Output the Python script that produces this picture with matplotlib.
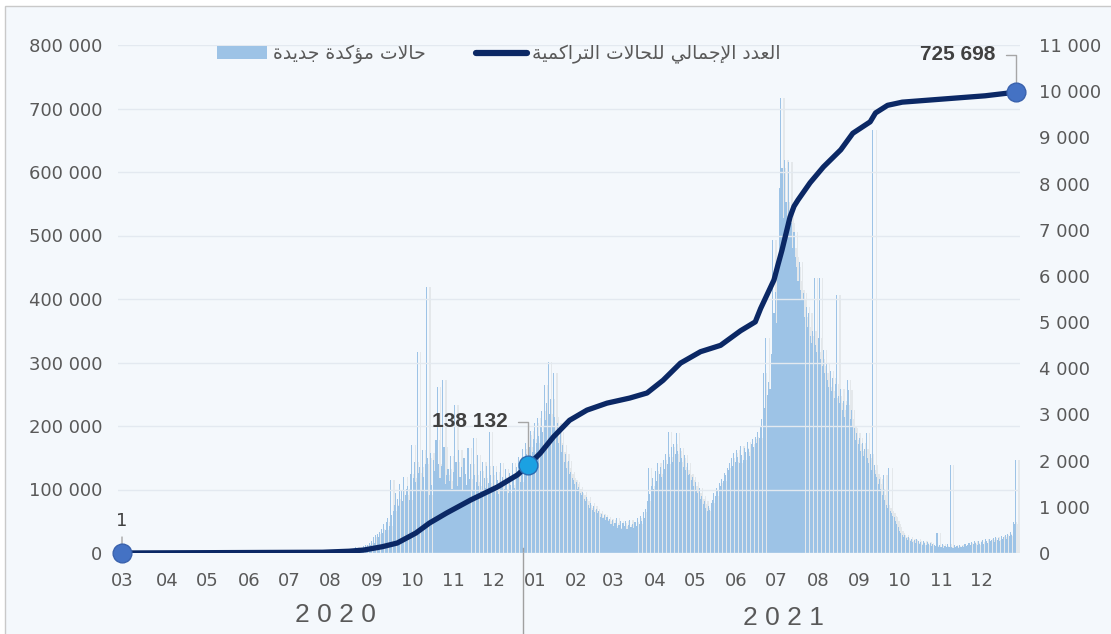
import matplotlib
matplotlib.use("Agg")
import matplotlib.pyplot as plt
import matplotlib.transforms as mtransforms
from matplotlib.lines import Line2D
from matplotlib.patches import Patch, Rectangle
from matplotlib.ticker import FuncFormatter, MultipleLocator
import numpy as np
import pandas as pd

# ---- data -------------------------------------------------------------
start_date = "2020-03-02"
end_date = "2021-12-31"

# daily new confirmed cases, one list per calendar month (right axis)
daily_2020 = [
    [1, 0, 0, 0, 0, 0, 0, 0, 0, 0, 0, 0, 0, 0, 0, 5, 4, 17, 10, 16,
     15, 15, 13, 14, 20, 40, 23, 26, 23, 19],                                  # 03 (from 2nd)
    [8, 8, 36, 11, 10, 13, 9, 10, 5, 15, 15, 0, 0, 10, 3, 3, 3, 8, 7, 2,
     1, 0, 4, 0, 1, 0, 0, 8, 4, 4],                                            # 04
    [2, 1, 6, 4, 3, 2, 6, 3, 1, 5, 4, 10, 13, 1, 12, 0, 2, 1, 6, 0,
     1, 3, 5, 2, 0, 2, 0, 3, 0, 24, 21],                                       # 05
    [9, 3, 5, 10, 5, 3, 2, 6, 3, 2, 7, 9, 2, 13, 5, 6, 2, 2, 4, 0,
     3, 8, 2, 3, 2, 5, 6, 11, 10, 2],                                          # 06
    [5, 4, 2, 6, 2, 3, 2, 4, 2, 9, 4, 8, 5, 2, 1, 2, 2, 3, 4, 1,
     3, 5, 3, 12, 2, 6, 3, 6, 4, 5, 9],                                        # 07
    [3, 10, 6, 3, 8, 18, 9, 12, 10, 6, 13, 30, 25, 38, 60, 52, 88, 55, 42, 70,
     85, 68, 64, 120, 45, 90, 116, 98, 112, 150, 172],                         # 08
    [125, 170, 215, 180, 260, 340, 225, 380, 420, 350, 460, 510, 430, 620, 490,
     680, 750, 590, 1580, 820, 920, 1050, 1290, 1160, 1020, 1500, 1340, 1120,
     1640, 1260],                                                              # 09
    [1380, 1450, 1150, 1720, 2340, 1620, 1980, 1540, 4350, 1740, 1870, 1360,
     2240, 1650, 1930, 5750, 2050, 1250, 2160, 1480, 2010, 1780, 2450, 3600,
     1930, 1620, 1890, 3740, 2300, 1500, 1680],                                # 10
    [1820, 1560, 2100, 1390, 1750, 3200, 1980, 1460, 2230, 1640, 1870, 1350,
     2050, 1720, 1480, 2280, 1610, 1930, 1370, 2490, 1690, 1540, 2120, 1460,
     1780, 1350, 1980, 1620, 1410, 1890],                                      # 11
    [1520, 2620, 1680, 1430, 1890, 1350, 1760, 1590, 1280, 1940, 1470, 1650,
     1380, 1820, 1560, 1290, 1730, 1480, 1950, 1620, 1400, 1860, 1710, 2080,
     1530, 1940, 2250, 1780, 2380, 2150, 2560],                                # 12
]
daily_2021 = [
    [2300, 2650, 2180, 2470, 2810, 2390, 2920, 2540, 2760, 3080, 2610, 3630,
     2880, 3250, 4130, 3010, 3340, 2720, 3900, 2950, 2530, 2810, 2390, 2620,
     2180, 2330, 1960, 2140, 1850, 1990, 1700],                                # 01
    [1750, 1620, 1580, 1490, 1530, 1380, 1420, 1300, 1250, 1330, 1180, 1120,
     1210, 1050, 980, 1090, 930, 1010, 880, 950, 860, 920, 790, 840, 760, 830,
     720, 780],                                                                # 02
    [690, 740, 620, 710, 580, 650, 760, 540, 610, 700, 520, 640, 580, 690, 510,
     600, 720, 560, 630, 540, 680, 590, 750, 620, 810, 700, 880, 760, 950,
     1120, 1840],                                                              # 03
    [1280, 1450, 1620, 1390, 1780, 1550, 1950, 1700, 1860, 1640, 2010, 1820,
     2150, 1930, 2620, 2080, 2290, 1980, 2360, 2140, 2600, 2210, 1960, 2280,
     2050, 1870, 2120, 1790, 1940, 1680],                                      # 04
    [1720, 1580, 1640, 1450, 1530, 1370, 1290, 1410, 1180, 1240, 1060, 1120,
     980, 900, 1010, 940, 1080, 1150, 1290, 1230, 1400, 1350, 1520, 1460, 1610,
     1550, 1730, 1680, 1840, 1790, 1950],                                      # 05
    [2050, 1880, 2170, 1960, 2240, 2080, 1950, 2310, 2130, 2020, 2280, 2190,
     2400, 2250, 2110, 2370, 2460, 2290, 2520, 2380, 2610, 2480, 2750, 2900,
     3900, 3150, 4650, 3420, 3700, 3550],                                      # 06
    [4300, 6770, 5200, 5650, 4980, 6100, 7900, 9850, 8330, 7250, 8500, 7600,
     6900, 8460, 7350, 7140, 6600, 6950, 6400, 6200, 5900, 6300, 5700, 5500,
     5630, 5100, 5320, 4900, 5200, 4700, 4550],                                # 07
    [4800, 5950, 4500, 4350, 4650, 5950, 4200, 4050, 4400, 3900, 4100, 3750,
     3600, 3950, 3500, 3800, 3350, 3650, 5580, 3400, 3250, 3550, 3100, 3300,
     2950, 3200, 3740, 3530, 2900, 3100, 2750],                                # 08
    [2700, 2450, 2600, 2350, 2500, 2200, 2380, 2100, 2250, 2600, 2050, 1950,
     2150, 1800, 9150, 1900, 1700, 1650, 1500, 1600, 1380, 1250, 1690, 1150,
     1050, 980, 1840, 920, 860, 800],                                          # 09
    [780, 700, 620, 560, 480, 430, 400, 350, 380, 320, 290, 340, 260, 300, 240,
     280, 220, 310, 250, 200, 230, 180, 260, 210, 170, 240, 190, 220, 160, 200,
     180],                                                                     # 10
    [150, 430, 120, 180, 140, 200, 110, 160, 130, 190, 120, 1900, 140, 100, 170,
     120, 150, 110, 180, 140, 160, 130, 190, 150, 170, 210, 180, 230, 200, 250],  # 11
    [220, 180, 260, 200, 240, 280, 190, 300, 250, 220, 310, 260, 280, 330, 240,
     350, 290, 320, 270, 360, 300, 340, 390, 310, 420, 370, 450, 400, 680, 620,
     2010],                                                                    # 12
]

# cumulative total (left axis), read at day offsets from 2 March 2020
cum_days = [0, 150, 170, 181, 195, 206, 220, 230, 243, 261, 281, 296, 304, 313,
            323, 335, 348, 363, 380, 393, 405, 418, 433, 448, 463, 474, 478,
            484, 488, 491, 494, 497, 500, 503, 506, 515, 525, 538, 547, 560,
            564, 573, 584, 615, 646, 669]
cum_values = [1, 1200, 2800, 4700, 10000, 15700, 31500, 47000, 63000, 83500,
              104000, 123000, 138132, 157000, 183000, 209000, 225000, 236000,
              244000, 252000, 272000, 299000, 317000, 327000, 350000, 364000,
              385000, 412000, 430000, 454000, 477000, 503000, 529000, 546000,
              556000, 583000, 608000, 635000, 661000, 679000, 693000, 705000,
              710000, 715000, 720000, 725698]
highlight_idx = [0, 12, len(cum_values) - 1]   # 1, 138 132, 725 698

month_labels = ["03", "04", "05", "06", "07", "08", "09", "10", "11", "12",
                "01", "02", "03", "04", "05", "06", "07", "08", "09", "10", "11", "12"]
year_labels = ["2020", "2021"]

label_bars = "حالات مؤكدة جديدة"
label_line = "العدد الإجمالي للحالات التراكمية"

# ---- arabic shaping (matplotlib has no complex text layout) ----------
FORMS = {  # isolated, final, initial, medial
    "\u0627": ("\uFE8D", "\uFE8E", None, None),
    "\u0625": ("\uFE87", "\uFE88", None, None),
    "\u0624": ("\uFE85", "\uFE86", None, None),
    "\u0629": ("\uFE93", "\uFE94", None, None),
    "\u062F": ("\uFEA9", "\uFEAA", None, None),
    "\u0631": ("\uFEAD", "\uFEAE", None, None),
    "\u062A": ("\uFE95", "\uFE96", "\uFE97", "\uFE98"),
    "\u062C": ("\uFE9D", "\uFE9E", "\uFE9F", "\uFEA0"),
    "\u062D": ("\uFEA1", "\uFEA2", "\uFEA3", "\uFEA4"),
    "\u0639": ("\uFEC9", "\uFECA", "\uFECB", "\uFECC"),
    "\u0643": ("\uFED9", "\uFEDA", "\uFEDB", "\uFEDC"),
    "\u0644": ("\uFEDD", "\uFEDE", "\uFEDF", "\uFEE0"),
    "\u0645": ("\uFEE1", "\uFEE2", "\uFEE3", "\uFEE4"),
    "\u064A": ("\uFEF1", "\uFEF2", "\uFEF3", "\uFEF4"),
}
LAM_ALEF = {"\u0627": ("\uFEFB", "\uFEFC"), "\u0625": ("\uFEF9", "\uFEFA")}


def joins_forward(c):
    return c in FORMS and FORMS[c][2] is not None


def shape_arabic(text):
    out, i, n = [], 0, len(text)
    while i < n:
        c = text[i]
        if c not in FORMS:
            out.append(c)
            i += 1
            continue
        link_prev = i > 0 and joins_forward(text[i - 1])
        if c == "\u0644" and i + 1 < n and text[i + 1] in LAM_ALEF:
            out.append(LAM_ALEF[text[i + 1]][1 if link_prev else 0])
            i += 2
            continue
        link_next = joins_forward(c) and i + 1 < n and text[i + 1] in FORMS
        iso, fin, ini, med = FORMS[c]
        if link_prev and link_next:
            out.append(med)
        elif link_prev:
            out.append(fin)
        elif link_next:
            out.append(ini)
        else:
            out.append(iso)
        i += 1
    return "".join(reversed(out))


# ---- build series -------------------------------------------------------
dates = pd.date_range(start_date, end_date, freq="D")
daily = np.array([v for month in daily_2020 + daily_2021 for v in month], dtype=float)
assert len(daily) == len(dates), (len(daily), len(dates))
days = np.arange(len(dates))

month_starts = pd.date_range("2020-03-01", end_date, freq="MS")
tick_pos = [(m - dates[0]).days + 4 for m in month_starts]
tick_pos[0] = 0
year_break = (pd.Timestamp("2021-01-01") - dates[0]).days - 5

BG = "#f4f8fc"
BAR = "#9dc3e6"
NAVY = "#0b2865"
GREY_TXT = "#595959"

fig = plt.figure(figsize=(11.11, 6.34), dpi=100)
fig.patch.set_facecolor("white")
fig.add_artist(Rectangle((5 / 1111, -0.01), 1.0, (634 - 6) / 634 + 0.01,
                         transform=fig.transFigure, facecolor=BG,
                         edgecolor="#c9c9c9", lw=1, zorder=-10))

rect = [118 / 1111, 81 / 634, 901.8 / 1111, 508 / 634]
ax_bar = fig.add_axes(rect)
ax_cum = ax_bar.twinx()
for a in (ax_bar, ax_cum):
    a.patch.set_visible(False)
    for s in a.spines.values():
        s.set_visible(False)

# bars (right axis) with a soft shadow
ax_bar.bar(days + 2.5, daily, width=1.0, color="#7f7f7f", alpha=0.13, lw=0)
ax_bar.bar(days, daily, width=0.8, color=BAR, lw=0)
ax_bar.set_ylim(0, 11000)
ax_bar.set_xlim(-3, 672)
ax_bar.yaxis.tick_right()
ax_bar.yaxis.set_major_locator(MultipleLocator(1000))

# cumulative line (left axis)
ax_cum.yaxis.tick_left()
ax_cum.set_ylim(0, 800000)
ax_cum.yaxis.set_major_locator(MultipleLocator(100000))
ax_cum.grid(axis="y", color="#e3e9f0", lw=1)
ax_cum.set_axisbelow(True)
ax_cum.plot(cum_days, cum_values, color=NAVY, lw=3.8, solid_capstyle="round",
            solid_joinstyle="round", zorder=3)

space_fmt = FuncFormatter(lambda v, _: f"{int(v):,}".replace(",", " "))
ax_cum.yaxis.set_major_formatter(space_fmt)
ax_bar.yaxis.set_major_formatter(space_fmt)
ax_cum.tick_params(axis="y", length=0, pad=11.5, labelsize=13, labelcolor=GREY_TXT)
ax_bar.tick_params(axis="y", length=0, pad=14, labelsize=13, labelcolor=GREY_TXT)

ax_bar.set_xticks(tick_pos)
ax_bar.set_xticklabels(month_labels)
ax_bar.tick_params(axis="x", length=0, pad=14, labelsize=13, labelcolor=GREY_TXT)
ax_cum.tick_params(axis="x", length=0)

# highlighted points and their labels
for k, i in enumerate(highlight_idx):
    d, v = cum_days[i], cum_values[i]
    face = "#1ba1e2" if k == 1 else "#4472c4"
    edge = "#2b6cb0" if k == 1 else "#3a62ad"
    ax_cum.plot([d], [v], "o", ms=13.5, mfc=face, mec=edge, mew=1, zorder=6, clip_on=False)
    txt = f"{v:,}".replace(",", " ")
    if k == 0:
        ax_cum.annotate(txt, xy=(d, v), xytext=(0, 23), textcoords="offset points",
                        ha="center", va="center", fontsize=13, color="#404040",
                        arrowprops=dict(arrowstyle="-", color="#a6a6a6", lw=1,
                                        relpos=(0.5, 0), shrinkA=3, shrinkB=0),
                        zorder=5, annotation_clip=False)
    else:
        dy = 31.5 if k == 1 else 27
        ax_cum.annotate(txt, xy=(d, v), xytext=(-15, dy), textcoords="offset points",
                        ha="right", va="center", fontsize=15, fontweight="bold",
                        family="Liberation Sans", color="#404040",
                        arrowprops=dict(arrowstyle="-", color="#a6a6a6", lw=1,
                                        connectionstyle="angle,angleA=0,angleB=90,rad=0",
                                        relpos=(1, 0.5), shrinkA=6, shrinkB=0),
                        zorder=5, annotation_clip=False)

# year separator and year labels
blend = mtransforms.blended_transform_factory(ax_bar.transData, ax_bar.transAxes)
ax_bar.plot([year_break, year_break], [0.01, -0.2], transform=blend,
            color="#a0a0a0", lw=1, clip_on=False)
fig.text(335 / 1111, 1 - 615 / 634, " ".join(year_labels[0]), ha="center", va="center",
         fontsize=19, family="Liberation Sans", color=GREY_TXT)
fig.text(783 / 1111, 1 - 618 / 634, " ".join(year_labels[1]), ha="center", va="center",
         fontsize=19, family="Liberation Sans", color=GREY_TXT)

# legend
handles = [Patch(facecolor=BAR, edgecolor="none"),
           Line2D([0], [0], color=NAVY, lw=4.5, solid_capstyle="round")]
fig.legend(handles, [shape_arabic(label_bars), shape_arabic(label_line)],
           loc="center", bbox_to_anchor=(499 / 1111, 1 - 54 / 634), ncol=2,
           frameon=False, fontsize=13.5, handlelength=2.67, handletextpad=0.32,
           columnspacing=2.7, labelcolor=GREY_TXT)

fig.savefig("out.png", dpi=100, facecolor=fig.get_facecolor())
